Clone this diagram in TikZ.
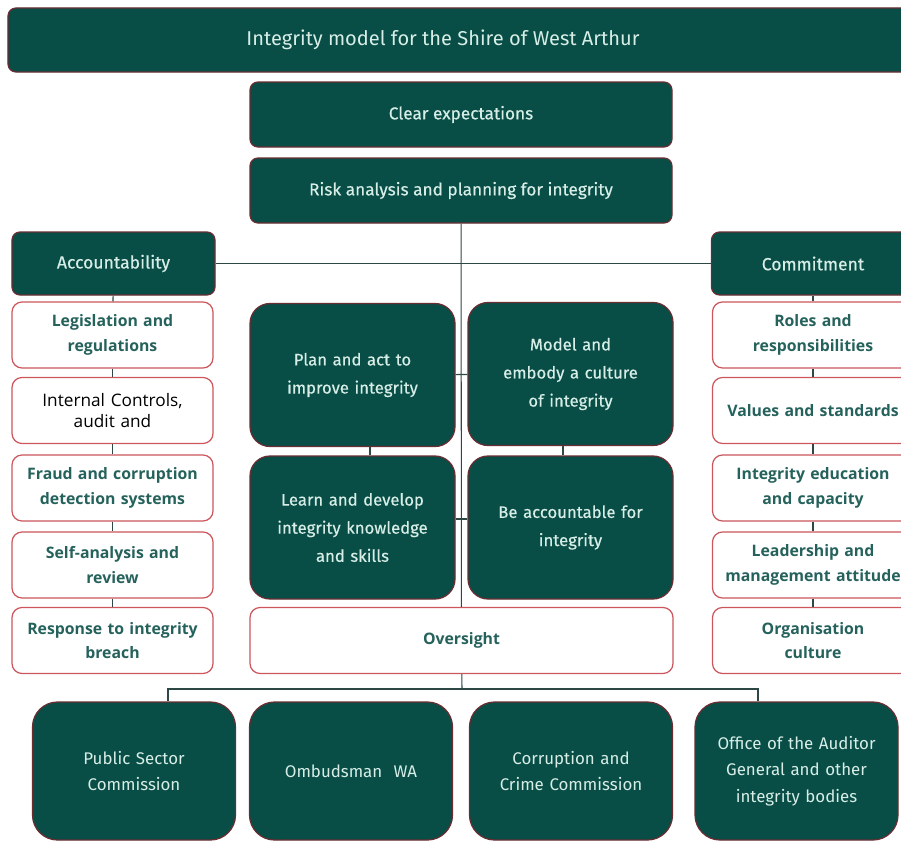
\documentclass[tikz,border=0pt]{standalone}
\usepackage{fontspec}
\setmainfont{Fira Sans}
\newfontfamily\medfont{Fira Sans}[FakeBold=0.4]
\newfontfamily\widefont{Open Sans}
\usepackage{xcolor}
\usepackage{tikz}
\usetikzlibrary{positioning}
\definecolor{deepteal}{RGB}{9, 77, 71}
\definecolor{minttext}{RGB}{214, 238, 230}
\definecolor{darkedge}{RGB}{105, 45, 50}
\definecolor{pinkedge}{RGB}{204, 86, 92}
\definecolor{tealtext}{RGB}{38, 98, 92}
\definecolor{linkgrey}{RGB}{45, 72, 68}

\begin{document}
\begin{tikzpicture}[x=0.2mm, y=-0.2mm,
    headbox/.style={rectangle, draw=darkedge, fill=deepteal, rounded corners=1.6mm, line width=0.7pt, minimum width=182.4mm, minimum height=12.8mm, text=minttext, align=center, font=\fontsize{11.4}{13}\selectfont},
    barbox/.style={rectangle, draw=darkedge, fill=deepteal, rounded corners=1.6mm, line width=0.7pt, minimum width=84.4mm, minimum height=13mm, text=minttext, align=center, font=\medfont\fontsize{9.8}{12}\selectfont},
    pillarbox/.style={rectangle, draw=darkedge, fill=deepteal, rounded corners=1.6mm, line width=0.7pt, minimum width=40.6mm, minimum height=12.6mm, text=minttext, align=center, font=\medfont\fontsize{10}{12}\selectfont},
    corebox/.style={rectangle, draw=darkedge, fill=deepteal, rounded corners=4mm, line width=0.7pt, minimum width=41mm, minimum height=28.6mm, text width=36mm, text=minttext, align=center, font=\medfont\fontsize{9.5}{16}\selectfont},
    itembox/.style={rectangle, draw=pinkedge, fill=white, rounded corners=2mm, line width=0.7pt, minimum width=40.2mm, minimum height=13.2mm, inner xsep=0pt, text width=40.2mm, text=tealtext, align=center, font=\widefont\bfseries\fontsize{9}{14}\selectfont},
    bodybox/.style={rectangle, draw=darkedge, fill=deepteal, rounded corners=5mm, line width=0.7pt, minimum width=40.6mm, minimum height=27.6mm, text width=38mm, text=minttext, align=center, font=\fontsize{9.6}{15}\selectfont},
    link/.style={draw=linkgrey, line width=0.6pt}
]
    \useasboundingbox (0,0) rectangle (901,841);

    % Top bars
    \node[headbox] (title) at (464, 40) {\hspace*{-8.4mm}Integrity model for the Shire of West Arthur};
    \node[barbox] (clear) at (461, 114.5) {Clear expectations};
    \node[barbox] (risk) at (461, 190.5) {Risk analysis and planning for integrity};

    % Pillars
    \node[pillarbox] (account) at (113.5, 263.5) {Accountability};
    \node[pillarbox] (commit) at (813, 263.5) {Commitment};

    % Accountability column
    \node[itembox] (legis) at (112.5, 335) {Legislation and\\regulations};
    \node[itembox, text=black, font=\widefont\fontsize{9.8}{12}\selectfont] (controls) at (112.5, 410.5) {Internal Controls,\\audit and};
    \node[itembox] (fraud) at (112.5, 488) {Fraud and corruption\\detection systems};
    \node[itembox] (selfrev) at (112.5, 565) {Self-analysis and\\review};
    \node[itembox] (breach) at (112.5, 640.5) {Response to integrity\\breach};

    % Commitment column
    \node[itembox] (roles) at (813, 335) {Roles and\\responsibilities};
    \node[itembox] (values) at (813, 410.5) {Values and standards};
    \node[itembox] (educ) at (813, 488) {Integrity education\\and capacity};
    \node[itembox] (lead) at (813, 565) {Leadership and\\management attitude};
    \node[itembox] (culture) at (813, 640.5) {Organisation\\culture};

    % Core
    \node[corebox] (plan) at (352.5, 375) {Plan and act to\\improve integrity\\[4pt]};
    \node[corebox] (model) at (570.5, 374) {Model and\\embody a culture\\of integrity};
    \node[corebox] (learn) at (352.5, 527.5) {Learn and develop\\integrity knowledge\\and skills};
    \node[corebox] (beacc) at (570.5, 527.5) {Be accountable for\\integrity\\[4pt]};
    \node[itembox, minimum width=84.6mm, text width=80mm] (oversight) at (461.5, 640.5) {Oversight};

    % Oversight bodies
    \node[bodybox] (psc) at (134, 771) {Public Sector\\Commission};
    \node[bodybox] (ombud) at (351, 771) {Ombudsman\ \ WA};
    \node[bodybox] (ccc) at (571, 771) {Corruption and\\Crime Commission};
    \node[bodybox] (oag) at (796.5, 771) {Office of the Auditor\\General and other\\integrity bodies};
    \coordinate (busbar) at (462, 689);

    % Links
    \draw[link] (risk) -- (oversight);
    \draw[link] (account) -- (commit);
    \draw[link] (account) -- (legis);
    \draw[link] (legis) -- (controls);
    \draw[link] (controls) -- (fraud);
    \draw[link] (fraud) -- (selfrev);
    \draw[link] (selfrev) -- (breach);
    \draw[link] (commit) -- (roles);
    \draw[link] (roles) -- (values);
    \draw[link] (values) -- (educ);
    \draw[link] (educ) -- (lead);
    \draw[link] (lead) -- (culture);
    \draw[link] (plan) -- (model);
    \draw[link] ([yshift=1.7mm]learn.east) -- ([yshift=1.7mm]beacc.west);
    \draw[link] ([xshift=3.5mm]plan.south) -- ([xshift=3.5mm]learn.north);
    \draw[link] ([xshift=-1.5mm]model.south) -- ([xshift=-1.5mm]beacc.north);
    \draw[link] (oversight) -- (busbar);
    \draw[link] ([xshift=6.8mm]psc.north) |- (busbar) -| ([xshift=-7.7mm]oag.north);
\end{tikzpicture}
\end{document}
